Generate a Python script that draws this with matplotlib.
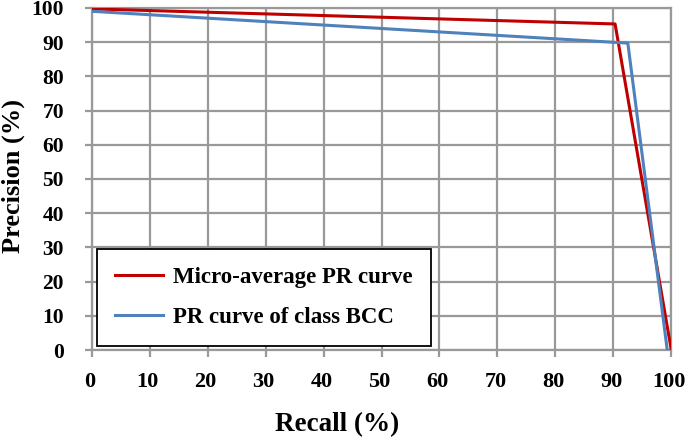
import matplotlib.pyplot as plt
import matplotlib.transforms as mtransforms
from matplotlib.ticker import MultipleLocator

plt.rcParams['font.family'] = ['Liberation Serif', 'DejaVu Serif']
plt.rcParams['font.weight'] = 'bold'

# PR curve points
micro_recall = [0, 90.3, 100]
micro_precision = [99.7, 95.3, 0]
bcc_recall = [0, 92.5, 99.3]
bcc_precision = [99.0, 89.7, 0]

fig = plt.figure(figsize=(6.85, 4.37), dpi=100)
ax = fig.add_axes([0.134, 0.199, 0.846, 0.783])

ax.plot(micro_recall, micro_precision, color='#C00000', lw=2.2, label='Micro-average PR curve', zorder=3)
ax.plot(bcc_recall, bcc_precision, color='#4F81BD', lw=2.2, label='PR curve of class BCC', zorder=3)

ax.set_xlim(0, 100)
ax.set_ylim(0, 100)
ax.xaxis.set_major_locator(MultipleLocator(10))
ax.yaxis.set_major_locator(MultipleLocator(10))
ax.grid(True, color='#999999', lw=1.6)
for s in ax.spines.values():
    s.set_color('#999999')
    s.set_linewidth(1.6)
ax.tick_params(direction='out', length=5, width=1.6, color='#999999')
ax.tick_params(axis='x', labelsize=16, pad=11)
ax.tick_params(axis='y', labelsize=15.5, pad=15)
# x labels sit a little left of their ticks in the original
shift = mtransforms.ScaledTranslation(-2 / 100, 0, fig.dpi_scale_trans)
for lab in ax.get_xticklabels():
    lab.set_fontweight('bold')
    lab.set_transform(lab.get_transform() + shift)
for lab in ax.get_yticklabels():
    lab.set_fontweight('bold')

ax.set_xlabel('Recall (%)', fontsize=19.5, fontweight='bold')
ax.set_ylabel('Precision (%)', fontsize=19, fontweight='bold')
ax.xaxis.set_label_coords(0.423, -0.181)
ax.yaxis.set_label_coords(-0.115, 0.509)

leg = ax.legend(loc='lower left', bbox_to_anchor=(0.009, 0.012), fancybox=False, framealpha=1,
                edgecolor='black', prop={'size': 16.5, 'weight': 'bold'},
                handlelength=2.1, handletextpad=0.4, borderpad=0.8, labelspacing=0.8,
                borderaxespad=0)
leg.get_frame().set_linewidth(1.3)

fig.savefig('out.png', dpi=100)
